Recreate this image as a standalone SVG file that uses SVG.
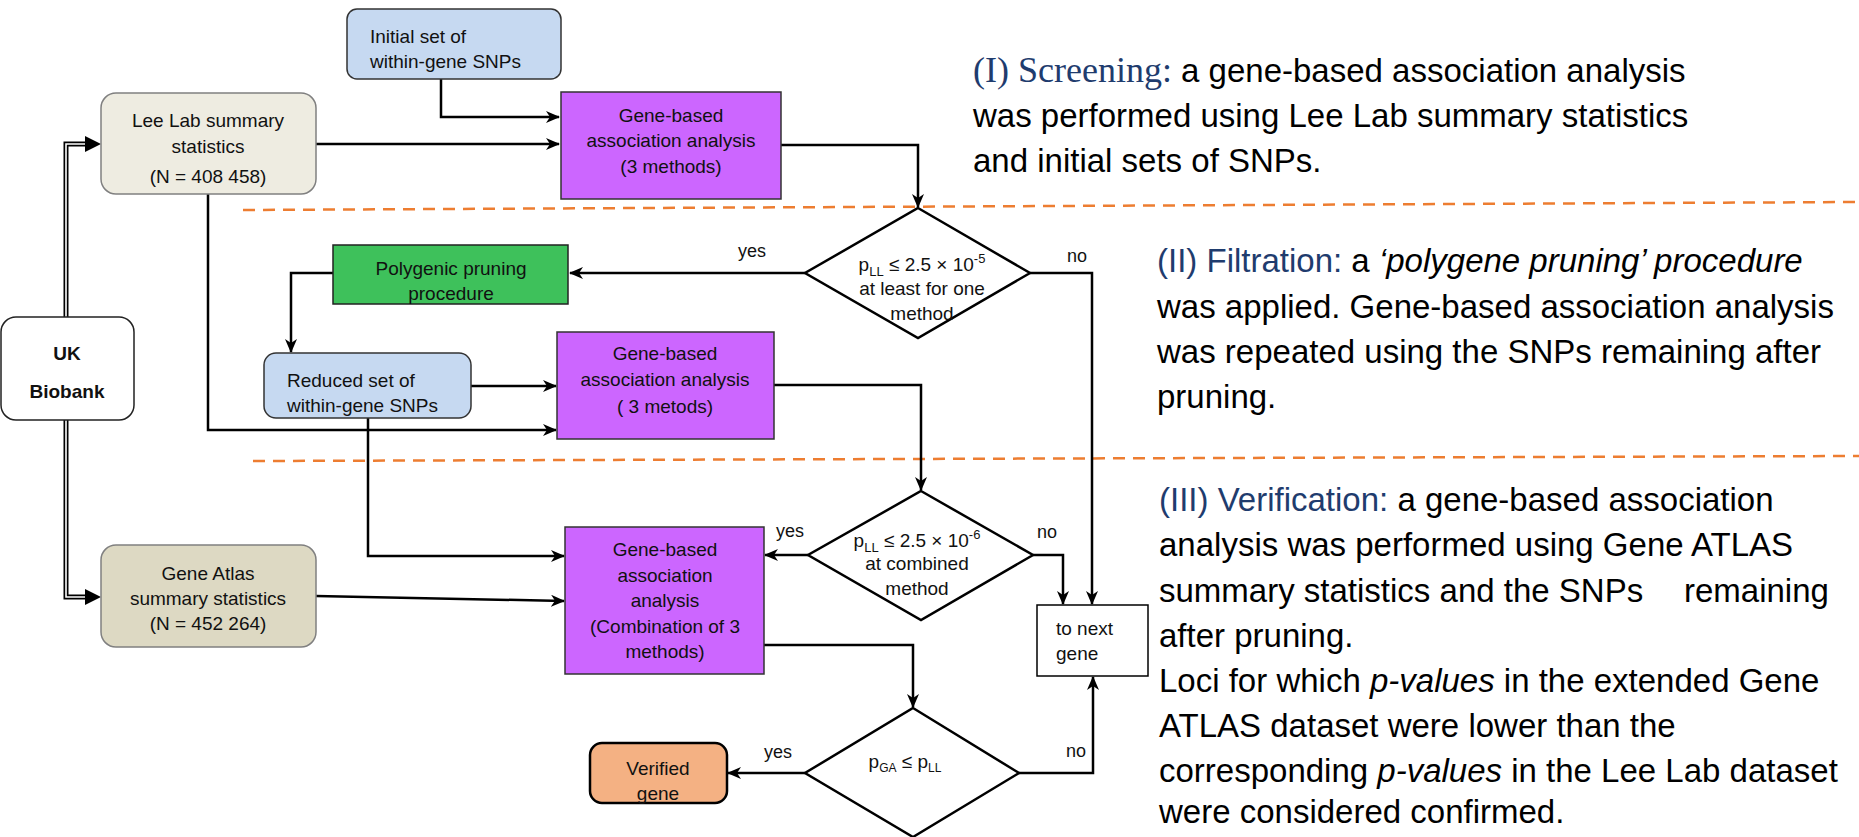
<svg xmlns="http://www.w3.org/2000/svg" width="1859" height="837" viewBox="0 0 1859 837">
<style>
.t{font-family:"Liberation Sans",Arial,sans-serif;font-size:19px;fill:#111}
.c{text-anchor:middle}
.lbl{font-family:"Liberation Sans",Arial,sans-serif;font-size:18px;fill:#111;text-anchor:middle}
.conn{fill:none;stroke:#000;stroke-width:2.5}
.purple{fill:#cc66ff;stroke:#333;stroke-width:1.5}
.blue{fill:#c6d9f1;stroke:#333;stroke-width:1.5}
.dia{fill:#fff;stroke:#000;stroke-width:2.5}
.para{font-family:"Liberation Sans",Arial,sans-serif;font-size:33px;fill:#000}
.hd{fill:#1f3c6e}
.dash{stroke:#ed7d31;stroke-width:2.5;stroke-dasharray:12 8;fill:none}
</style>
<defs>
<marker id="ah" viewBox="0 0 14 12" refX="13" refY="6" markerWidth="14" markerHeight="12" markerUnits="userSpaceOnUse" orient="auto">
<path d="M0,0 L14,6 L0,12 L4,6 z" fill="#000"/>
</marker>
</defs>

<!-- section dividers -->
<line class="dash" x1="243" y1="210" x2="1859" y2="202"/>
<line class="dash" x1="253" y1="461" x2="1859" y2="456"/>

<g id="connectors">
<path class="conn" d="M441,79 V117 H559" marker-end="url(#ah)"/>
<path class="conn" d="M316,144 H559" marker-end="url(#ah)"/>
<path class="conn" d="M781,145 H918 V207" marker-end="url(#ah)"/>
<path class="conn" d="M805,273 H570" marker-end="url(#ah)"/>
<path class="conn" d="M1030,273 H1092 V604" marker-end="url(#ah)"/>
<path class="conn" d="M333,273 H291 V352" marker-end="url(#ah)"/>
<path class="conn" d="M471,386 H556" marker-end="url(#ah)"/>
<path class="conn" d="M208,194 V430 H556" marker-end="url(#ah)"/>
<path class="conn" d="M774,385 H921 V490" marker-end="url(#ah)"/>
<path class="conn" d="M808,555 H765" marker-end="url(#ah)"/>
<path class="conn" d="M1033,555 H1063 V604" marker-end="url(#ah)"/>
<path class="conn" d="M368,418 V556 H564" marker-end="url(#ah)"/>
<path class="conn" d="M316,596 L564,601" marker-end="url(#ah)"/>
<path class="conn" d="M764,645 H913 V707" marker-end="url(#ah)"/>
<path class="conn" d="M805,773 H728" marker-end="url(#ah)"/>
<path class="conn" d="M1019,773 H1093 V677" marker-end="url(#ah)"/>
<!-- double lines from UK Biobank -->
<path d="M66,317 V144 H88" fill="none" stroke="#000" stroke-width="5"/>
<path d="M66,317 V144 H88" fill="none" stroke="#fff" stroke-width="1.6"/>
<polygon points="85,136 101,144 85,152" fill="#000"/>
<path d="M66,420 V597 H88" fill="none" stroke="#000" stroke-width="5"/>
<path d="M66,420 V597 H88" fill="none" stroke="#fff" stroke-width="1.6"/>
<polygon points="85,589 101,597 85,605" fill="#000"/>
<text class="lbl" x="752" y="257">yes</text>
<text class="lbl" x="1077" y="262">no</text>
<text class="lbl" x="790" y="537">yes</text>
<text class="lbl" x="1047" y="538">no</text>
<text class="lbl" x="778" y="758">yes</text>
<text class="lbl" x="1076" y="757">no</text>
</g>

<g id="uk-biobank">
<rect x="1" y="317" width="133" height="103" rx="15" fill="#fff" stroke="#222" stroke-width="1.5"/>
<text class="t c" x="67" y="360" font-weight="bold" font-size="18">UK</text>
<text class="t c" x="67" y="398" font-weight="bold" font-size="18">Biobank</text>
</g>

<g id="initial-set">
<rect class="blue" x="347" y="9" width="214" height="70" rx="10"/>
<text class="t" x="370" y="43">Initial set of</text>
<text class="t" x="370" y="68">within-gene SNPs</text>
</g>

<g id="lee-lab">
<rect x="101" y="93" width="215" height="101" rx="15" fill="#eeece1" stroke="#808080" stroke-width="1.5"/>
<text class="t c" x="208" y="127">Lee Lab summary</text>
<text class="t c" x="208" y="153">statistics</text>
<text class="t c" x="208" y="183">(N = 408 458)</text>
</g>

<g id="gene-based-1">
<rect class="purple" x="561" y="92" width="220" height="107"/>
<text class="t c" x="671" y="122">Gene-based</text>
<text class="t c" x="671" y="147">association analysis</text>
<text class="t c" x="671" y="173">(3 methods)</text>
</g>

<g id="decision-1">
<polygon class="dia" points="918,208 1030,273 918,338 805,273"/>
<text class="t c" x="922" y="271" font-size="20">p<tspan font-size="13" dy="5">LL</tspan><tspan dy="-5"> ≤ 2.5 × 10</tspan><tspan font-size="13" dy="-8">-5</tspan></text>
<text class="t c" x="922" y="295">at least for one</text>
<text class="t c" x="922" y="320">method</text>
</g>

<g id="polygenic">
<rect x="333" y="245" width="235" height="59" fill="#3ec15b" stroke="#222" stroke-width="1.5"/>
<text class="t c" x="451" y="275">Polygenic pruning</text>
<text class="t c" x="451" y="300">procedure</text>
</g>

<g id="reduced-set">
<rect class="blue" x="264" y="353" width="207" height="65" rx="12"/>
<text class="t" x="287" y="387">Reduced set of</text>
<text class="t" x="287" y="412">within-gene SNPs</text>
</g>

<g id="gene-based-2">
<rect class="purple" x="557" y="332" width="217" height="107"/>
<text class="t c" x="665" y="360">Gene-based</text>
<text class="t c" x="665" y="386">association analysis</text>
<text class="t c" x="665" y="413">( 3 metods)</text>
</g>

<g id="decision-2">
<polygon class="dia" points="921,491 1033,555 921,620 808,555"/>
<text class="t c" x="917" y="547" font-size="20">p<tspan font-size="13" dy="5">LL</tspan><tspan dy="-5"> ≤ 2.5 × 10</tspan><tspan font-size="13" dy="-8">-6</tspan></text>
<text class="t c" x="917" y="570">at combined</text>
<text class="t c" x="917" y="595">method</text>
</g>

<g id="gene-atlas">
<rect x="101" y="545" width="215" height="102" rx="15" fill="#ddd9c3" stroke="#808080" stroke-width="1.5"/>
<text class="t c" x="208" y="580">Gene Atlas</text>
<text class="t c" x="208" y="605">summary statistics</text>
<text class="t c" x="208" y="630">(N = 452 264)</text>
</g>

<g id="gene-based-3">
<rect class="purple" x="565" y="527" width="199" height="147"/>
<text class="t c" x="665" y="556">Gene-based</text>
<text class="t c" x="665" y="582">association</text>
<text class="t c" x="665" y="607">analysis</text>
<text class="t c" x="665" y="633">(Combination of 3</text>
<text class="t c" x="665" y="658">methods)</text>
</g>

<g id="to-next-gene">
<rect x="1037" y="605" width="111" height="71" fill="#fff" stroke="#000" stroke-width="1.5"/>
<text class="t" x="1056" y="635" font-size="18">to next</text>
<text class="t" x="1056" y="660" font-size="18">gene</text>
</g>

<g id="decision-3">
<polygon class="dia" points="913,708 1019,773 913,837 805,773"/>
<text class="t c" x="905" y="768" font-size="18">p<tspan font-size="12" dy="4">GA</tspan><tspan dy="-4"> ≤ p</tspan><tspan font-size="12" dy="4">LL</tspan></text>
</g>

<g id="verified-gene">
<rect x="590" y="743" width="137" height="60" rx="12" fill="#f4b183" stroke="#000" stroke-width="2.5"/>
<text class="t c" x="658" y="775">Verified</text>
<text class="t c" x="658" y="800">gene</text>
</g>

<g id="description">
<text class="para" x="973" y="82"><tspan class="hd" font-family="Liberation Serif, Times New Roman, serif" font-size="36">(I) Screening:</tspan> a gene-based association analysis</text>
<text class="para" x="973" y="127">was performed using Lee Lab summary statistics</text>
<text class="para" x="973" y="172">and initial sets of SNPs.</text>

<text class="para" x="1157" y="272"><tspan class="hd">(II) Filtration:</tspan> a <tspan font-style="italic">‘polygene pruning’ procedure</tspan></text>
<text class="para" x="1157" y="318">was applied. Gene-based association analysis</text>
<text class="para" x="1157" y="363">was repeated using the SNPs remaining after</text>
<text class="para" x="1157" y="408">pruning.</text>

<text class="para" x="1159" y="511"><tspan class="hd">(III) Verification:</tspan> a gene-based association</text>
<text class="para" x="1159" y="556">analysis was performed using Gene ATLAS</text>
<text class="para" x="1159" y="602">summary statistics and the SNPs<tspan x="1684">remaining</tspan></text>
<text class="para" x="1159" y="647">after pruning.</text>
<text class="para" x="1159" y="692">Loci for which <tspan font-style="italic">p-values</tspan> in the extended Gene</text>
<text class="para" x="1159" y="737">ATLAS dataset were lower than the</text>
<text class="para" x="1159" y="782">corresponding <tspan font-style="italic">p-values</tspan> in the Lee Lab dataset</text>
<text class="para" x="1159" y="823">were considered confirmed.</text>
</g>
</svg>
